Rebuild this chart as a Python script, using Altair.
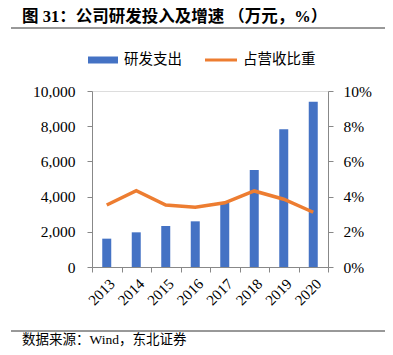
import altair as alt
import pandas as pd

years = ["2013", "2014", "2015", "2016", "2017", "2018", "2019", "2020"]
rd_spend = [1610, 1970, 2330, 2595, 3650, 5510, 7820, 9390]
rd_ratio = [0.0352, 0.0434, 0.0352, 0.0339, 0.0365, 0.0432, 0.0385, 0.0311]

title_text = "图 31：公司研发投入及增速 （万元，%）"
legend_labels = ["研发支出", "占营收比重"]
source_text = "数据来源：Wind，东北证券"

df = pd.DataFrame({"year": years, "spend": rd_spend, "ratio": rd_ratio})

FONT = "Liberation Serif, Noto Sans CJK SC"
BLUE = "#4472C4"
ORANGE = "#ED7D31"
GRAY = "#888888"

x_enc = alt.X("year:N", title=None, sort=years,
              scale=alt.Scale(paddingInner=0, paddingOuter=0),
              axis=alt.Axis(labelAngle=-45, tickBand="extent", labelPadding=4,
                            domainColor=GRAY, tickColor=GRAY, tickSize=5,
                            labelFontSize=15, labelFont=FONT, labelColor="#000"))

bars = alt.Chart(df).mark_bar(color=BLUE, size=9).encode(
    x=x_enc,
    y=alt.Y("spend:Q", title=None,
            scale=alt.Scale(domain=[0, 10000]),
            axis=alt.Axis(values=[0, 2000, 4000, 6000, 8000, 10000], format=",.0f",
                          grid=False, domainColor=GRAY, tickColor=GRAY, tickSize=5,
                          labelPadding=12, labelFontSize=15.5, labelFont=FONT,
                          labelColor="#000")),
)

line = alt.Chart(df).mark_line(color=ORANGE, strokeWidth=3.5).encode(
    x=alt.X("year:N", sort=years),
    y=alt.Y("ratio:Q", title=None,
            scale=alt.Scale(domain=[0, 0.1]),
            axis=alt.Axis(orient="right", values=[0, 0.02, 0.04, 0.06, 0.08, 0.1],
                          format=".0%", grid=False, domainColor=GRAY, tickColor=GRAY,
                          tickSize=5, labelPadding=10, labelFontSize=15.5, labelFont=FONT,
                          labelColor="#000")),
)

one = pd.DataFrame({"a": [0]})

title = alt.Chart(one).mark_text(text=title_text, font=FONT, fontSize=16.5, fontWeight="bold",
                                 align="left", baseline="middle", color="#000").encode(
    x=alt.value(-70), y=alt.value(-74))
title_rule = alt.Chart(one).mark_rule(color="#333", strokeWidth=1).encode(
    x=alt.value(-81), x2=alt.value(298), y=alt.value(-63))
leg_rect = alt.Chart(one).mark_rect(color=BLUE).encode(
    x=alt.value(-4), x2=alt.value(26), y=alt.value(-34.5), y2=alt.value(-27.5))
leg_t1 = alt.Chart(one).mark_text(text=legend_labels[0], font=FONT, fontSize=14.5,
                                  align="left", baseline="middle", color="#000").encode(
    x=alt.value(32), y=alt.value(-31))
leg_line = alt.Chart(one).mark_rule(color=ORANGE, strokeWidth=3).encode(
    x=alt.value(113), x2=alt.value(145), y=alt.value(-31))
leg_t2 = alt.Chart(one).mark_text(text=legend_labels[1], font=FONT, fontSize=14.5,
                                  align="left", baseline="middle", color="#000").encode(
    x=alt.value(151), y=alt.value(-31))
bottom_rule = alt.Chart(one).mark_rule(color="#333", strokeWidth=1).encode(
    x=alt.value(-81), x2=alt.value(298), y=alt.value(240))
source = alt.Chart(one).mark_text(text=source_text, font=FONT, fontSize=13.5,
                                  align="left", baseline="middle", color="#000").encode(
    x=alt.value(-70), y=alt.value(248.5))

chart = alt.layer(bars, line, title, title_rule, leg_rect, leg_t1, leg_line, leg_t2,
                  bottom_rule, source).resolve_scale(y="independent").properties(
    width=236, height=176,
    autosize=alt.AutoSizeParams(type="none"),
    padding={"left": 84, "top": 83, "right": 57, "bottom": 80},
).configure_view(stroke=None).configure(background="white")

chart.save("out.html", embed_options={"renderer": "svg", "actions": False})
